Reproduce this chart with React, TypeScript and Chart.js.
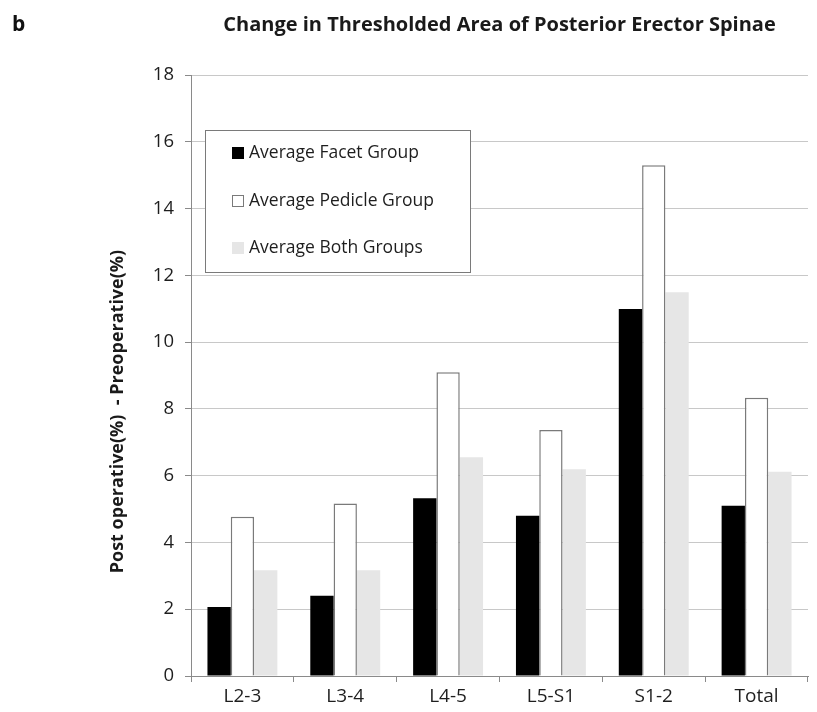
import React, { useEffect, useRef } from "react";
import { Chart, registerables } from "chart.js";

Chart.register(...registerables);

const categories = ["L2-3", "L3-4", "L4-5", "L5-S1", "S1-2", "Total"];
const facetGroup = [2.07, 2.4, 5.32, 4.8, 10.99, 5.1];
const pedicleGroup = [4.77, 5.17, 9.1, 7.37, 15.3, 8.33];
const bothGroups = [3.17, 3.17, 6.55, 6.19, 11.49, 6.12];
const seriesLabels = ["Average Facet Group", "Average Pedicle Group", "Average Both Groups"];
const yAxisTitle = "Post operative(%)  - Preoperative(%)";
const chartTitle = "Change in Thresholded Area of Posterior Erector Spinae";
const panelLetter = "b";
const yMin = 0;
const yMax = 18;
const yStep = 2;

const FONT = "'Open Sans', 'DejaVu Sans', sans-serif";

const legendPlugin = {
  id: "insetLegend",
  afterDraw(chart: any) {
    const ctx = chart.ctx;
    const ca = chart.chartArea;
    const x0 = ca.left + 14;
    const y0 = ca.top + 55;
    const w = 265;
    const h = 142;
    ctx.save();
    ctx.fillStyle = "#ffffff";
    ctx.fillRect(x0, y0, w, h);
    ctx.strokeStyle = "#7a7a7a";
    ctx.lineWidth = 1;
    ctx.strokeRect(x0 + 0.5, y0 + 0.5, w, h);
    const rows = [23, 71, 118];
    chart.data.datasets.forEach((ds: any, i: number) => {
      const cy = y0 + rows[i];
      const bx = x0 + 27;
      ctx.fillStyle = ds.backgroundColor;
      ctx.fillRect(bx, cy - 6, 12, 12);
      if (ds.borderWidth) {
        ctx.strokeStyle = ds.borderColor;
        ctx.lineWidth = 1;
        ctx.strokeRect(bx + 0.5, cy - 5.5, 11, 11);
      }
      ctx.fillStyle = "#1e1e1e";
      ctx.font = `17.5px ${FONT}`;
      ctx.textBaseline = "middle";
      ctx.textAlign = "left";
      ctx.fillText(ds.label, bx + 17, cy);
    });
    ctx.restore();
  },
};

const extraTextPlugin = {
  id: "extraText",
  afterDraw(chart: any) {
    const ctx = chart.ctx;
    const ca = chart.chartArea;
    ctx.save();
    ctx.fillStyle = "#111";
    ctx.font = `bold 21px ${FONT}`;
    ctx.textBaseline = "middle";
    ctx.textAlign = "left";
    ctx.fillText(panelLetter, 12, 25);
    // y-axis title
    ctx.translate(118, ca.top + (ca.bottom - ca.top) * 0.56);
    ctx.rotate(-Math.PI / 2);
    ctx.textAlign = "center";
    ctx.fillStyle = "#1a1a1a";
    ctx.font = `bold 18px ${FONT}`;
    ctx.fillText(yAxisTitle, 0, 0);
    ctx.restore();
  },
};

export default function App() {
  const ref = useRef<HTMLCanvasElement>(null);
  useEffect(() => {
    if (!ref.current) return;
    const chart = new Chart(ref.current, {
      type: "bar",
      data: {
        labels: categories,
        datasets: [
          { label: seriesLabels[0], data: facetGroup, backgroundColor: "#000000", borderWidth: 0 },
          { label: seriesLabels[1], data: pedicleGroup, backgroundColor: "#ffffff", borderColor: "#7a7a7a", borderWidth: 1.5 },
          { label: seriesLabels[2], data: bothGroups, backgroundColor: "#e6e6e6", borderWidth: 0 },
        ],
      },
      options: {
        animation: false,
        responsive: false,
        maintainAspectRatio: false,
        datasets: { bar: { barPercentage: 1, categoryPercentage: 0.68 } },
        layout: { padding: { left: 0, right: 9, top: 0, bottom: 0 } },
        plugins: {
          legend: { display: false },
          tooltip: { enabled: false },
          title: {
            display: true,
            text: chartTitle,
            fullSize: false,
            color: "#1a1a1a",
            font: { family: FONT, size: 20, weight: "bold" },
            padding: { top: 13, bottom: 38 },
          },
        },
        scales: {
          x: {
            grid: { display: true, drawOnChartArea: false, drawTicks: true, tickLength: 6, tickColor: "#8a8a8a", offset: true },
            border: { display: true, color: "#8a8a8a", width: 1 },
            ticks: { color: "#1e1e1e", font: { family: FONT, size: 19 }, padding: 3 },
            afterFit: (s: any) => { s.height = 36; },
          },
          y: {
            min: yMin,
            max: yMax,
            ticks: { stepSize: yStep, color: "#1e1e1e", font: { family: FONT, size: 18.5 }, padding: 11 },
            grid: { color: "#c8c8c8", lineWidth: 1, tickLength: 6, tickColor: "#8a8a8a" },
            border: { display: true, color: "#8a8a8a", width: 1 },
            title: { display: false },
            afterFit: (s: any) => { s.width = 191; },
          },
        },
      },
      plugins: [legendPlugin, extraTextPlugin],
    });
    return () => chart.destroy();
  }, []);
  return (
    <div style={{ position: "absolute", left: 0, top: 0, width: 817, height: 712, background: "#fff" }}>
      <canvas ref={ref} width={817} height={712} style={{ width: 817, height: 712 }} />
    </div>
  );
}
